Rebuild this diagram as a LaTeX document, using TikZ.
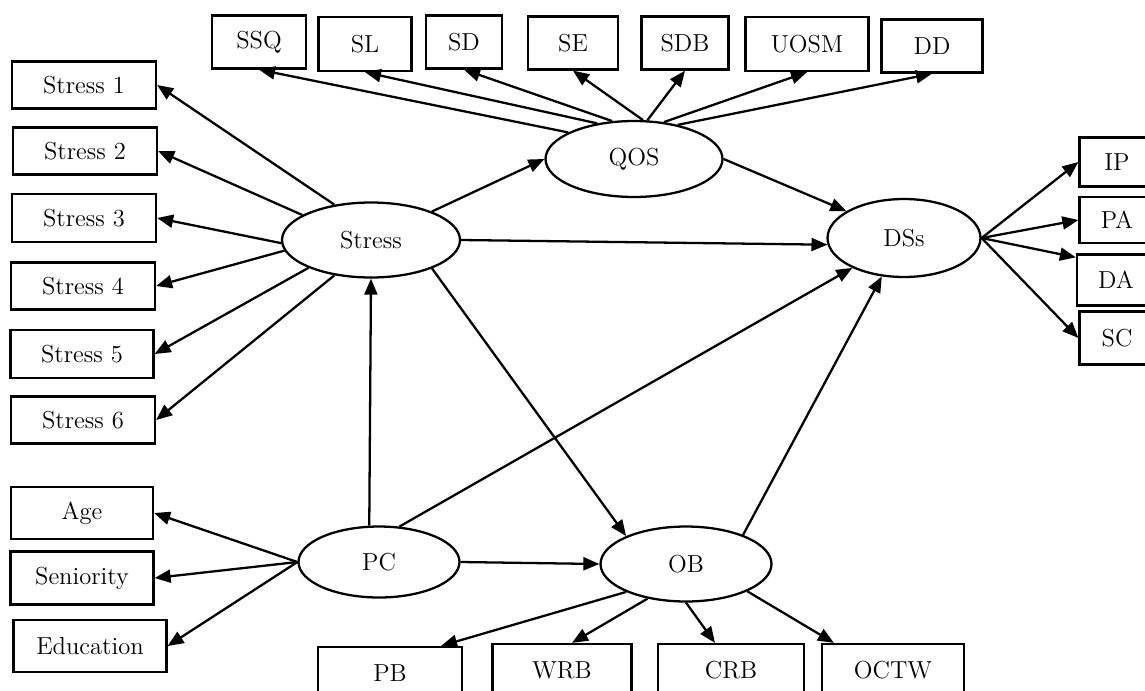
\documentclass[tikz,border=0pt]{standalone}
\usepackage{tikz}
\usetikzlibrary{
  arrows.meta,
  shapes.geometric
}

\begin{document}
\begin{tikzpicture}[x=0.02cm, y=-0.02cm,
  every node/.style={font=\fontsize{14}{16}\selectfont, line width=1.3pt, inner sep=2pt},
  box/.style 2 args={draw, rectangle, minimum width=#1, minimum height=#2},
  latent/.style 2 args={draw, ellipse, inner sep=0pt, minimum width=#1, minimum height=#2},
  arr/.style={-{Triangle[length=0.32cm, width=0.26cm]}, line width=1.3pt}]
  \useasboundingbox (0,0) rectangle (1145,690);
  \fill[white] (0,0) rectangle (1145,690);
  \clip (0,0) rectangle (1145,690);

  % Latent variables
  \node[latent={3.56cm}{1.5cm}] (stress) at (371,240) {Stress};
  \node[latent={3.54cm}{1.52cm}] (qos) at (634,159) {QOS};
  \node[latent={3.06cm}{1.56cm}] (dss) at (904,238) {DSs};
  \node[latent={3.22cm}{1.42cm}] (pc) at (379,562) {PC};
  \node[latent={3.42cm}{1.5cm}] (ob) at (686,564) {OB};

  % Stress items
  \node[box={2.88cm}{0.94cm}] (s1) at (84,85) {Stress 1};
  \node[box={2.88cm}{0.94cm}] (s2) at (85,151) {Stress 2};
  \node[box={2.88cm}{0.96cm}] (s3) at (84,218) {Stress 3};
  \node[box={2.88cm}{0.94cm}] (s4) at (83,286) {Stress 4};
  \node[box={2.86cm}{0.96cm}] (s5) at (82,354) {Stress 5};
  \node[box={2.88cm}{0.94cm}] (s6) at (83,420) {Stress 6};

  % PC items
  \node[box={2.84cm}{1.04cm}] (age) at (82,513) {Age};
  \node[box={2.86cm}{1.06cm}] (seniority) at (82,578) {Seniority};
  \node[box={3.06cm}{1.04cm}] (education) at (90,646) {Education};

  % QOS items
  \node[box={1.88cm}{1.06cm}] (ssq) at (259,42) {SSQ};
  \node[box={1.86cm}{1.08cm}] (sl) at (365,44) {SL};
  \node[box={1.52cm}{1.06cm}] (sd) at (464,42) {SD};
  \node[box={1.8cm}{1.06cm}] (se) at (573,43) {SE};
  \node[box={1.74cm}{1.06cm}] (sdb) at (685,43) {SDB};
  \node[box={2.46cm}{1.08cm}] (uosm) at (807,44) {UOSM};
  \node[box={2.02cm}{1.06cm}] (dd) at (932,46) {DD};

  % DSs items
  \node[box={1.5cm}{0.98cm}] (ip) at (1117,162) {IP};
  \node[box={1.5cm}{0.92cm}] (pa) at (1117,220) {PA};
  \node[box={1.56cm}{1.02cm}] (da) at (1116,280) {DA};
  \node[box={1.5cm}{1.06cm}] (sc) at (1117,338) {SC};

  % OB items
  \node[box={2.88cm}{1.04cm}] (pb) at (390,673) {PB};
  \node[box={2.78cm}{1.04cm}] (wrb) at (562,670) {WRB};
  \node[box={2.92cm}{1.04cm}] (crb) at (731,670) {CRB};
  \node[box={2.84cm}{1.04cm}] (octw) at (893,670) {OCTW};

  % Measurement paths
  \foreach \b/\a in {s1/136, s2/160, s3/182, s4/187, s5/204, s6/224}
    \draw[arr] (stress.\a) -- (\b.east);
  \foreach \b/\a in {ssq/158, sl/136, sd/120, se/77, sdb/71, uosm/51, dd/38}
    \draw[arr] (qos.\a) -- (\b.south);
  \foreach \b in {age, seniority, education}
    \draw[arr] (pc.west) -- (\b.east);
  \draw[arr] (dss.east) -- (ip.west);
  \draw[arr] (dss.east) -- (pa.west);
  \draw[arr] (dss.east) -- ([yshift=-0.08cm]da.north west);
  \draw[arr] (dss.east) -- (sc.west);
  \draw[arr] (ob.205) -- ([xshift=-0.44cm]pb.north east);
  \draw[arr] (ob.222) -- ([xshift=0.2cm]wrb.north);
  \draw[arr] (ob.south) -- ([xshift=-0.32cm]crb.north);
  \draw[arr] (ob.-24) -- ([xshift=0.26cm]octw.north west);

  % Structural paths
  \draw[arr] (stress) -- (qos.west);
  \draw[arr] (stress.east) -- (dss.185);
  \draw[arr] (qos.east) -- (dss.155);
  \draw[arr] (stress.-25) -- (ob.155);
  \draw[arr] (pc.105) -- (stress.south);
  \draw[arr] (pc.60) -- (dss.210);
  \draw[arr] (pc.east) -- (ob.west);
  \draw[arr] (ob.27) -- (dss.240);
\end{tikzpicture}
\end{document}
